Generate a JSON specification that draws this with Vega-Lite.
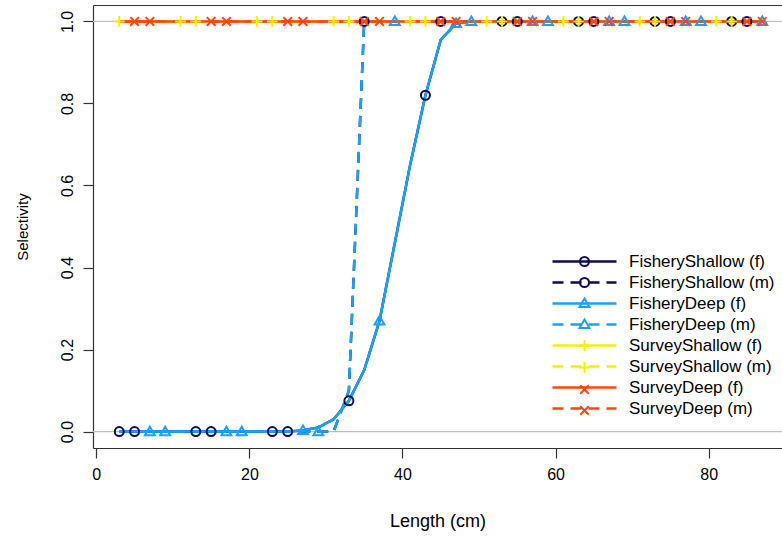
{
  "$schema": "https://vega.github.io/schema/vega-lite/v6.json",
  "width": 689,
  "height": 443,
  "autosize": {"type": "none"},
  "padding": {"left": 93, "top": 5, "right": 0, "bottom": 88},
  "background": "white",
  "datasets": {
    "fleets": [
      {"key": "fs_f", "series": "FisheryShallow (f)"},
      {"key": "fs_m", "series": "FisheryShallow (m)"},
      {"key": "fd_f", "series": "FisheryDeep (f)"},
      {"key": "fd_m", "series": "FisheryDeep (m)"},
      {"key": "ss_f", "series": "SurveyShallow (f)"},
      {"key": "ss_m", "series": "SurveyShallow (m)"},
      {"key": "sd_f", "series": "SurveyDeep (f)"},
      {"key": "sd_m", "series": "SurveyDeep (m)"}
    ],
    "selex": [
      {"len": 3, "fs_f": 0, "fs_m": 0, "fd_f": 0, "fd_m": 0, "ss_f": 1, "ss_m": 1, "sd_f": 1, "sd_m": 1},
      {"len": 5, "fs_f": 0, "fs_m": 0, "fd_f": 0, "fd_m": 0, "ss_f": 1, "ss_m": 1, "sd_f": 1, "sd_m": 1},
      {"len": 7, "fs_f": 0, "fs_m": 0, "fd_f": 0, "fd_m": 0, "ss_f": 1, "ss_m": 1, "sd_f": 1, "sd_m": 1},
      {"len": 9, "fs_f": 0, "fs_m": 0, "fd_f": 0, "fd_m": 0, "ss_f": 1, "ss_m": 1, "sd_f": 1, "sd_m": 1},
      {"len": 11, "fs_f": 0, "fs_m": 0, "fd_f": 0, "fd_m": 0, "ss_f": 1, "ss_m": 1, "sd_f": 1, "sd_m": 1},
      {"len": 13, "fs_f": 0, "fs_m": 0, "fd_f": 0, "fd_m": 0, "ss_f": 1, "ss_m": 1, "sd_f": 1, "sd_m": 1},
      {"len": 15, "fs_f": 0, "fs_m": 0, "fd_f": 0, "fd_m": 0, "ss_f": 1, "ss_m": 1, "sd_f": 1, "sd_m": 1},
      {"len": 17, "fs_f": 0, "fs_m": 0, "fd_f": 0, "fd_m": 0, "ss_f": 1, "ss_m": 1, "sd_f": 1, "sd_m": 1},
      {"len": 19, "fs_f": 0, "fs_m": 0, "fd_f": 0, "fd_m": 0, "ss_f": 1, "ss_m": 1, "sd_f": 1, "sd_m": 1},
      {"len": 21, "fs_f": 0, "fs_m": 0, "fd_f": 0, "fd_m": 0, "ss_f": 1, "ss_m": 1, "sd_f": 1, "sd_m": 1},
      {"len": 23, "fs_f": 0, "fs_m": 0, "fd_f": 0, "fd_m": 0, "ss_f": 1, "ss_m": 1, "sd_f": 1, "sd_m": 1},
      {"len": 25, "fs_f": 0, "fs_m": 0, "fd_f": 0, "fd_m": 0, "ss_f": 1, "ss_m": 1, "sd_f": 1, "sd_m": 1},
      {"len": 27, "fs_f": 0.003, "fs_m": 0, "fd_f": 0.003, "fd_m": 0, "ss_f": 1, "ss_m": 1, "sd_f": 1, "sd_m": 1},
      {"len": 29, "fs_f": 0.01, "fs_m": 0, "fd_f": 0.01, "fd_m": 0, "ss_f": 1, "ss_m": 1, "sd_f": 1, "sd_m": 1},
      {"len": 31, "fs_f": 0.03, "fs_m": 0, "fd_f": 0.03, "fd_m": 0, "ss_f": 1, "ss_m": 1, "sd_f": 1, "sd_m": 1},
      {"len": 33, "fs_f": 0.075, "fs_m": 0.1, "fd_f": 0.075, "fd_m": 0.1, "ss_f": 1, "ss_m": 1, "sd_f": 1, "sd_m": 1},
      {"len": 35, "fs_f": 0.15, "fs_m": 1, "fd_f": 0.15, "fd_m": 1, "ss_f": 1, "ss_m": 1, "sd_f": 1, "sd_m": 1},
      {"len": 37, "fs_f": 0.27, "fs_m": 1, "fd_f": 0.27, "fd_m": 1, "ss_f": 1, "ss_m": 1, "sd_f": 1, "sd_m": 1},
      {"len": 39, "fs_f": 0.46, "fs_m": 1, "fd_f": 0.46, "fd_m": 1, "ss_f": 1, "ss_m": 1, "sd_f": 1, "sd_m": 1},
      {"len": 41, "fs_f": 0.65, "fs_m": 1, "fd_f": 0.65, "fd_m": 1, "ss_f": 1, "ss_m": 1, "sd_f": 1, "sd_m": 1},
      {"len": 43, "fs_f": 0.82, "fs_m": 1, "fd_f": 0.82, "fd_m": 1, "ss_f": 1, "ss_m": 1, "sd_f": 1, "sd_m": 1},
      {"len": 45, "fs_f": 0.955, "fs_m": 1, "fd_f": 0.955, "fd_m": 1, "ss_f": 1, "ss_m": 1, "sd_f": 1, "sd_m": 1},
      {"len": 47, "fs_f": 0.995, "fs_m": 1, "fd_f": 0.995, "fd_m": 1, "ss_f": 1, "ss_m": 1, "sd_f": 1, "sd_m": 1},
      {"len": 49, "fs_f": 1, "fs_m": 1, "fd_f": 1, "fd_m": 1, "ss_f": 1, "ss_m": 1, "sd_f": 1, "sd_m": 1},
      {"len": 51, "fs_f": 1, "fs_m": 1, "fd_f": 1, "fd_m": 1, "ss_f": 1, "ss_m": 1, "sd_f": 1, "sd_m": 1},
      {"len": 53, "fs_f": 1, "fs_m": 1, "fd_f": 1, "fd_m": 1, "ss_f": 1, "ss_m": 1, "sd_f": 1, "sd_m": 1},
      {"len": 55, "fs_f": 1, "fs_m": 1, "fd_f": 1, "fd_m": 1, "ss_f": 1, "ss_m": 1, "sd_f": 1, "sd_m": 1},
      {"len": 57, "fs_f": 1, "fs_m": 1, "fd_f": 1, "fd_m": 1, "ss_f": 1, "ss_m": 1, "sd_f": 1, "sd_m": 1},
      {"len": 59, "fs_f": 1, "fs_m": 1, "fd_f": 1, "fd_m": 1, "ss_f": 1, "ss_m": 1, "sd_f": 1, "sd_m": 1},
      {"len": 61, "fs_f": 1, "fs_m": 1, "fd_f": 1, "fd_m": 1, "ss_f": 1, "ss_m": 1, "sd_f": 1, "sd_m": 1},
      {"len": 63, "fs_f": 1, "fs_m": 1, "fd_f": 1, "fd_m": 1, "ss_f": 1, "ss_m": 1, "sd_f": 1, "sd_m": 1},
      {"len": 65, "fs_f": 1, "fs_m": 1, "fd_f": 1, "fd_m": 1, "ss_f": 1, "ss_m": 1, "sd_f": 1, "sd_m": 1},
      {"len": 67, "fs_f": 1, "fs_m": 1, "fd_f": 1, "fd_m": 1, "ss_f": 1, "ss_m": 1, "sd_f": 1, "sd_m": 1},
      {"len": 69, "fs_f": 1, "fs_m": 1, "fd_f": 1, "fd_m": 1, "ss_f": 1, "ss_m": 1, "sd_f": 1, "sd_m": 1},
      {"len": 71, "fs_f": 1, "fs_m": 1, "fd_f": 1, "fd_m": 1, "ss_f": 1, "ss_m": 1, "sd_f": 1, "sd_m": 1},
      {"len": 73, "fs_f": 1, "fs_m": 1, "fd_f": 1, "fd_m": 1, "ss_f": 1, "ss_m": 1, "sd_f": 1, "sd_m": 1},
      {"len": 75, "fs_f": 1, "fs_m": 1, "fd_f": 1, "fd_m": 1, "ss_f": 1, "ss_m": 1, "sd_f": 1, "sd_m": 1},
      {"len": 77, "fs_f": 1, "fs_m": 1, "fd_f": 1, "fd_m": 1, "ss_f": 1, "ss_m": 1, "sd_f": 1, "sd_m": 1},
      {"len": 79, "fs_f": 1, "fs_m": 1, "fd_f": 1, "fd_m": 1, "ss_f": 1, "ss_m": 1, "sd_f": 1, "sd_m": 1},
      {"len": 81, "fs_f": 1, "fs_m": 1, "fd_f": 1, "fd_m": 1, "ss_f": 1, "ss_m": 1, "sd_f": 1, "sd_m": 1},
      {"len": 83, "fs_f": 1, "fs_m": 1, "fd_f": 1, "fd_m": 1, "ss_f": 1, "ss_m": 1, "sd_f": 1, "sd_m": 1},
      {"len": 85, "fs_f": 1, "fs_m": 1, "fd_f": 1, "fd_m": 1, "ss_f": 1, "ss_m": 1, "sd_f": 1, "sd_m": 1},
      {"len": 87, "fs_f": 1, "fs_m": 1, "fd_f": 1, "fd_m": 1, "ss_f": 1, "ss_m": 1, "sd_f": 1, "sd_m": 1}
    ],
    "markers": [
      {"key": "fs_f", "len": 3, "sel": 0}, {"key": "fs_f", "len": 13, "sel": 0}, {"key": "fs_f", "len": 23, "sel": 0},
      {"key": "fs_f", "len": 33, "sel": 0.075}, {"key": "fs_f", "len": 43, "sel": 0.82}, {"key": "fs_f", "len": 53, "sel": 1},
      {"key": "fs_f", "len": 63, "sel": 1}, {"key": "fs_f", "len": 73, "sel": 1}, {"key": "fs_f", "len": 83, "sel": 1},
      {"key": "fs_m", "len": 5, "sel": 0}, {"key": "fs_m", "len": 15, "sel": 0}, {"key": "fs_m", "len": 25, "sel": 0},
      {"key": "fs_m", "len": 35, "sel": 1}, {"key": "fs_m", "len": 45, "sel": 1}, {"key": "fs_m", "len": 55, "sel": 1},
      {"key": "fs_m", "len": 65, "sel": 1}, {"key": "fs_m", "len": 75, "sel": 1}, {"key": "fs_m", "len": 85, "sel": 1},
      {"key": "fd_f", "len": 7, "sel": 0}, {"key": "fd_f", "len": 17, "sel": 0}, {"key": "fd_f", "len": 27, "sel": 0.003},
      {"key": "fd_f", "len": 37, "sel": 0.27}, {"key": "fd_f", "len": 47, "sel": 0.995}, {"key": "fd_f", "len": 57, "sel": 1},
      {"key": "fd_f", "len": 67, "sel": 1}, {"key": "fd_f", "len": 77, "sel": 1}, {"key": "fd_f", "len": 87, "sel": 1},
      {"key": "fd_m", "len": 9, "sel": 0}, {"key": "fd_m", "len": 19, "sel": 0}, {"key": "fd_m", "len": 29, "sel": 0},
      {"key": "fd_m", "len": 39, "sel": 1}, {"key": "fd_m", "len": 49, "sel": 1}, {"key": "fd_m", "len": 59, "sel": 1},
      {"key": "fd_m", "len": 69, "sel": 1}, {"key": "fd_m", "len": 79, "sel": 1},
      {"key": "ss_f", "len": 11, "sel": 1}, {"key": "ss_f", "len": 21, "sel": 1}, {"key": "ss_f", "len": 31, "sel": 1},
      {"key": "ss_f", "len": 41, "sel": 1}, {"key": "ss_f", "len": 51, "sel": 1}, {"key": "ss_f", "len": 61, "sel": 1},
      {"key": "ss_f", "len": 71, "sel": 1}, {"key": "ss_f", "len": 81, "sel": 1},
      {"key": "ss_m", "len": 3, "sel": 1}, {"key": "ss_m", "len": 13, "sel": 1}, {"key": "ss_m", "len": 23, "sel": 1},
      {"key": "ss_m", "len": 33, "sel": 1}, {"key": "ss_m", "len": 43, "sel": 1}, {"key": "ss_m", "len": 53, "sel": 1},
      {"key": "ss_m", "len": 63, "sel": 1}, {"key": "ss_m", "len": 73, "sel": 1}, {"key": "ss_m", "len": 83, "sel": 1},
      {"key": "sd_f", "len": 5, "sel": 1}, {"key": "sd_f", "len": 15, "sel": 1}, {"key": "sd_f", "len": 25, "sel": 1},
      {"key": "sd_f", "len": 35, "sel": 1}, {"key": "sd_f", "len": 45, "sel": 1}, {"key": "sd_f", "len": 55, "sel": 1},
      {"key": "sd_f", "len": 65, "sel": 1}, {"key": "sd_f", "len": 75, "sel": 1}, {"key": "sd_f", "len": 85, "sel": 1},
      {"key": "sd_m", "len": 7, "sel": 1}, {"key": "sd_m", "len": 17, "sel": 1}, {"key": "sd_m", "len": 27, "sel": 1},
      {"key": "sd_m", "len": 37, "sel": 1}, {"key": "sd_m", "len": 47, "sel": 1}, {"key": "sd_m", "len": 57, "sel": 1},
      {"key": "sd_m", "len": 67, "sel": 1}, {"key": "sd_m", "len": 77, "sel": 1}, {"key": "sd_m", "len": 87, "sel": 1}
    ]
  },
  "layer": [
    {
      "data": {"values": [{"sel": 0}, {"sel": 1}]},
      "mark": {"type": "rule", "color": "#bebebe", "strokeWidth": 1.2},
      "encoding": {
        "y": {"field": "sel", "type": "quantitative"}
      }
    },
    {
      "data": {"name": "selex"},
      "transform": [
        {"fold": ["fs_f", "fs_m", "fd_f", "fd_m", "ss_f", "ss_m", "sd_f", "sd_m"], "as": ["key", "sel"]},
        {"lookup": "key", "from": {"data": {"name": "fleets"}, "key": "key", "fields": ["series"]}}
      ],
      "mark": {"type": "line", "strokeWidth": 2.5},
      "encoding": {
        "x": {
          "field": "len", "type": "quantitative",
          "scale": {"domain": [-0.43, 89.58], "nice": false, "zero": false},
          "axis": {"title": "Length (cm)", "values": [0, 20, 40, 60, 80], "labelFontSize": 16, "labelPadding": 8,
                   "labelBaseline": "top", "titleFontSize": 18, "titleY": 73, "titleBaseline": "middle"}
        },
        "y": {
          "field": "sel", "type": "quantitative",
          "scale": {"domain": [-0.04, 1.04], "nice": false, "zero": false},
          "axis": {"title": "Selectivity", "values": [0, 0.2, 0.4, 0.6, 0.8, 1], "format": ".1f",
                   "labelAngle": -90, "labelAlign": "center", "labelBaseline": "bottom", "labelPadding": 8,
                   "labelFontSize": 16, "titleFontSize": 15, "titleX": -71, "titleAngle": -90,
                   "titleAlign": "center", "titleBaseline": "middle"}
        },
        "color": {
          "field": "series", "type": "nominal",
          "scale": {
            "domain": ["FisheryShallow (f)", "FisheryShallow (m)", "FisheryDeep (f)", "FisheryDeep (m)",
                       "SurveyShallow (f)", "SurveyShallow (m)", "SurveyDeep (f)", "SurveyDeep (m)"],
            "range": ["#0c0c52", "#0c0c52", "#1ca0ff", "#1ca0ff", "#f2f200", "#f2f200", "#ff4514", "#ff4514"]
          },
          "legend": {"title": null, "orient": "none", "legendX": 483, "legendY": 248,
                     "symbolType": "M-8,0L8,0", "symbolSize": 64, "symbolStrokeWidth": 2.5,
                     "labelFontSize": 17, "labelOffset": 36, "rowPadding": 3}
        },
        "strokeDash": {
          "field": "series", "type": "nominal",
          "scale": {
            "domain": ["FisheryShallow (f)", "FisheryShallow (m)", "FisheryDeep (f)", "FisheryDeep (m)",
                       "SurveyShallow (f)", "SurveyShallow (m)", "SurveyDeep (f)", "SurveyDeep (m)"],
            "range": [[1, 0], [11, 7], [1, 0], [11, 7], [1, 0], [11, 7], [1, 0], [11, 7]]
          },
          "legend": {"title": null, "orient": "none", "legendX": 483, "legendY": 248,
                     "symbolType": "M-8,0L8,0", "symbolSize": 64, "symbolStrokeWidth": 2.5,
                     "labelFontSize": 17, "labelOffset": 36, "rowPadding": 3}
        }
      }
    },
    {
      "data": {"name": "markers"},
      "transform": [
        {"lookup": "key", "from": {"data": {"name": "fleets"}, "key": "key", "fields": ["series"]}}
      ],
      "mark": {"type": "point", "filled": false, "strokeWidth": 2, "size": 81, "opacity": 1},
      "encoding": {
        "x": {
          "field": "len", "type": "quantitative",
          "axis": {"orient": "top", "labels": false, "ticks": false, "title": null, "domain": true}
        },
        "y": {"field": "sel", "type": "quantitative"},
        "color": {
          "field": "series", "type": "nominal",
          "legend": {"title": null, "orient": "none", "legendX": 483, "legendY": 248,
                     "symbolSize": 81, "symbolStrokeWidth": 2,
                     "labelFontSize": 17, "labelOffset": 36, "rowPadding": 3, "labelExpr": "''"}
        },
        "shape": {
          "field": "series", "type": "nominal",
          "scale": {
            "domain": ["FisheryShallow (f)", "FisheryShallow (m)", "FisheryDeep (f)", "FisheryDeep (m)",
                       "SurveyShallow (f)", "SurveyShallow (m)", "SurveyDeep (f)", "SurveyDeep (m)"],
            "range": ["circle", "circle",
                      "M0,-1.1L1.1,0.8L-1.1,0.8Z", "M0,-1.1L1.1,0.8L-1.1,0.8Z",
                      "M-1.2,0L1.2,0M0,-1.2L0,1.2", "M-1.2,0L1.2,0M0,-1.2L0,1.2",
                      "M-0.95,-0.95L0.95,0.95M-0.95,0.95L0.95,-0.95", "M-0.95,-0.95L0.95,0.95M-0.95,0.95L0.95,-0.95"]
          },
          "legend": {"title": null, "orient": "none", "legendX": 483, "legendY": 248,
                     "symbolSize": 81, "symbolStrokeWidth": 2,
                     "labelFontSize": 17, "labelOffset": 36, "rowPadding": 3, "labelExpr": "''"}
        }
      }
    }
  ],
  "resolve": {
    "axis": {"x": "independent"},
    "legend": {"color": "independent", "shape": "independent", "strokeDash": "independent"}
  },
  "config": {
    "view": {"stroke": null},
    "font": "Liberation Sans",
    "axis": {
      "grid": false, "domainColor": "#333333", "tickColor": "#333333", "domainWidth": 1.2, "tickWidth": 1.2,
      "tickSize": 10, "labelColor": "#000000", "titleColor": "#000000", "labelFont": "Liberation Sans",
      "titleFont": "Liberation Sans", "titleFontWeight": "normal", "labelFlush": false, "labelOverlap": false
    },
    "legend": {"labelFont": "Liberation Sans", "labelColor": "#000000", "padding": 0}
  }
}
